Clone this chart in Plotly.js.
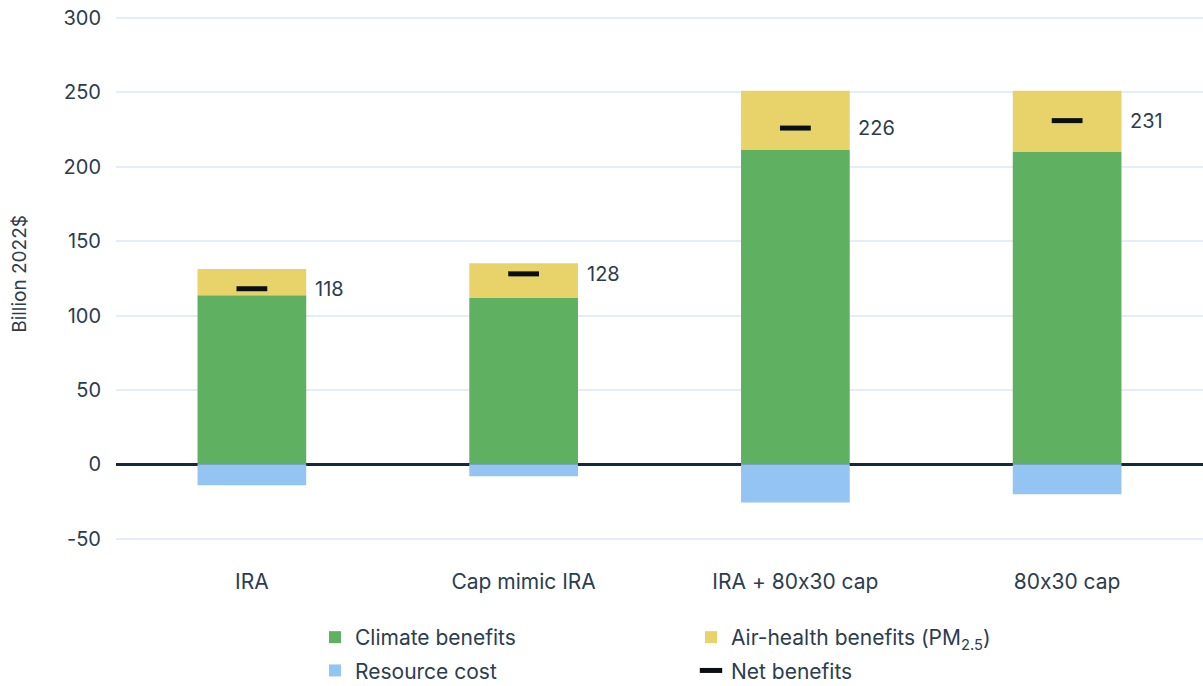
<!DOCTYPE html>
<html>
<head>
<meta charset="utf-8">
<script src="https://cdn.plot.ly/plotly-3.0.1.min.js"></script>
<style>
html,body{margin:0;padding:0;background:#fff;}
#chart{width:1203px;height:686px;}
svg text{font-feature-settings:"calt" 0, "liga" 0;}
</style>
</head>
<body>
<div id="chart"></div>
<script>
const categories = ["IRA", "Cap mimic IRA", "IRA + 80x30 cap", "80x30 cap"];
const climateBenefits = [113.7, 111.7, 211.2, 209.9];
const airHealthBenefits = [17.5, 23.5, 39.8, 41.1];
const resourceCost = [-14.1, -8.1, -25.6, -20.2];
const netBenefits = [118, 128, 226, 231];
const netLabels = ["118", "128", "226", "231"];
const yTickValues = [-50, 0, 50, 100, 150, 200, 250, 300];
const yTickText = ["-50", "0", "50", "100", "150", "200", "250", "300"];
const yAxisTitle = "Billion 2022$";

const textColor = "#2b3d4f";
const fontFamily = "Inter, 'Noto Sans', sans-serif";

const traces = [
  {type: "bar", name: "Climate benefits", x: categories, y: climateBenefits,
   marker: {color: "#5fb060"}, width: 0.4, legend: "legend", legendgroup: "g1"},
  {type: "bar", name: "Air-health benefits (PM<sub>2.5</sub>)", x: categories, y: airHealthBenefits,
   marker: {color: "#e8d36b"}, width: 0.4, legend: "legend2", legendgroup: "g2"},
  {type: "bar", name: "Resource cost", x: categories, y: resourceCost,
   marker: {color: "#93c4f2"}, width: 0.4, legend: "legend", legendgroup: "g3"},
  {type: "scatter", mode: "markers", name: "Net benefits", x: categories, y: netBenefits,
   marker: {symbol: "line-ew", size: 22, color: "#000", line: {color: "#0a0f14", width: 5}},
   legend: "legend2", legendgroup: "g4"}
];

const annotations = categories.map((c, i) => ({
  x: c, y: netBenefits[i], text: netLabels[i], showarrow: false,
  xanchor: "left", yanchor: "middle", xshift: 61,
  font: {family: fontFamily, size: 20, color: textColor}
}));
annotations.push({
  xref: "paper", yref: "paper", x: 0, y: 0.526, xshift: -96,
  xanchor: "center", yanchor: "middle", textangle: -90, showarrow: false,
  text: yAxisTitle, font: {family: fontFamily, size: 19, color: textColor}
});

const legendCommon = {
  xref: "container", yref: "container", yanchor: "top", xanchor: "left",
  orientation: "v", bgcolor: "rgba(0,0,0,0)", borderwidth: 0,
  tracegroupgap: 3, traceorder: "grouped",
  font: {family: fontFamily, size: 21, color: textColor}
};

const layout = {
  width: 1203, height: 686,
  margin: {l: 116, r: 0, t: 15, b: 125, autoexpand: false},
  paper_bgcolor: "#fff", plot_bgcolor: "#fff",
  barmode: "relative", bargap: 0.6,
  showlegend: true,
  hovermode: false,
  font: {family: fontFamily, size: 20, color: textColor},
  xaxis: {
    type: "category", range: [-0.5, 3.5], showgrid: false, zeroline: false,
    showline: false, ticks: "", ticklabelstandoff: 6, tickangle: 0, automargin: false,
    tickfont: {family: fontFamily, size: 21, color: textColor}
  },
  yaxis: {
    range: [-65, 302], tickvals: yTickValues, ticktext: yTickText, showgrid: true, automargin: false,
    gridcolor: "#e4eefa", gridwidth: 2,
    zeroline: true, zerolinecolor: "#16293a", zerolinewidth: 2.5,
    showline: false, ticks: "", ticklabelstandoff: 14,
    tickfont: {family: fontFamily, size: 20, color: textColor}
  },
  legend: Object.assign({}, legendCommon, {x: 315 / 1203, y: 1 - 617 / 686}),
  legend2: Object.assign({}, legendCommon, {x: 691 / 1203, y: 1 - 617 / 686}),
  annotations: annotations
};

Plotly.newPlot("chart", traces, layout, {displayModeBar: false, staticPlot: true});
</script>
</body>
</html>
